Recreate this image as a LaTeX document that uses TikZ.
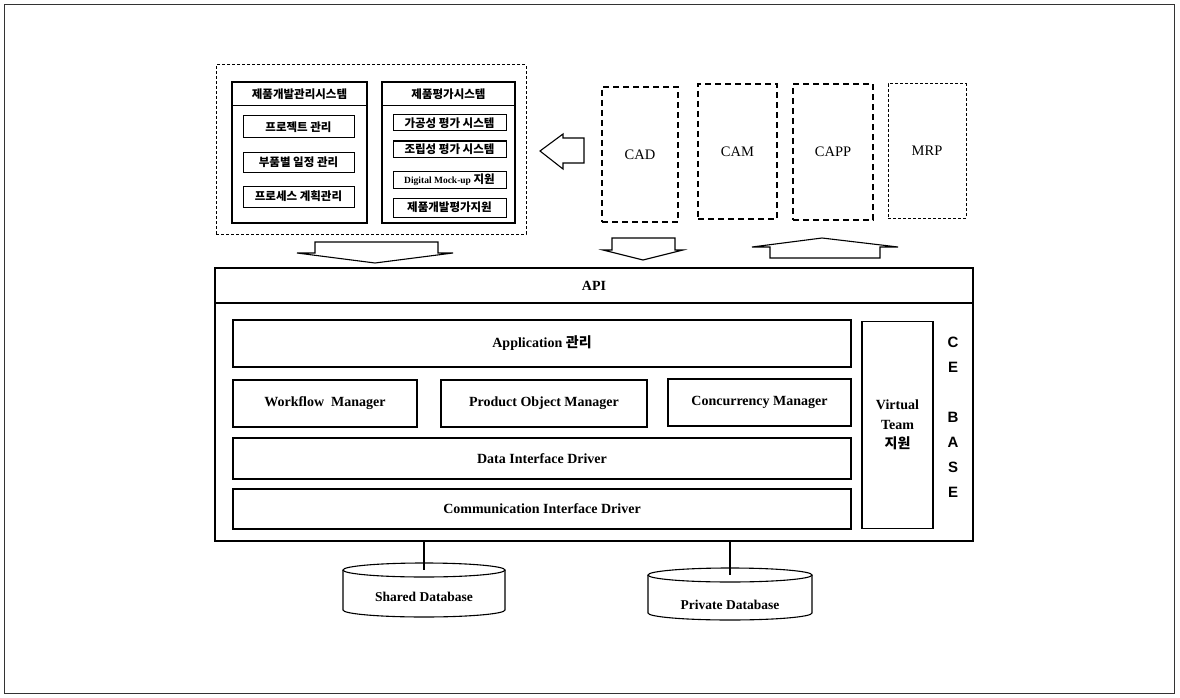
\documentclass[tikz,border=0pt]{standalone}
\usepackage{fontspec}
\setmainfont{Liberation Serif}
\setsansfont{Liberation Sans}
\newfontfamily\krfont{Noto Sans CJK KR}
\newcommand{\hangul}[1]{{\krfont\bfseries #1}}
\begin{document}
\begin{tikzpicture}[x=1pt,y=-1pt,
  box/.style={draw, line width=1.1pt, inner sep=0pt, align=center,
    font=\bfseries\fontsize{14}{18}\selectfont},
  subbox/.style={draw, line width=1pt, inner sep=0pt, align=center,
    font=\krfont\bfseries\fontsize{11.5}{14}\selectfont},
  toolbox/.style={draw, line width=1.2pt, dash pattern=on 6pt off 4pt,
    inner sep=0pt, font=\fontsize{14.5}{16}\selectfont},
  blockarrow/.style={draw, line width=1.1pt, fill=white, line join=miter},
  dblabel/.style={inner sep=0pt, font=\bfseries\fontsize{13.5}{16}\selectfont},
  dbline/.style={line width=1.1pt},
  link/.style={line width=1.1pt}]
\useasboundingbox (0,0) rectangle (1180,698);

% page frame
\draw[line width=1pt, black!80] (4,5) rectangle (1174,693);

% ---- product development / evaluation systems ----
\node[draw, line width=1pt, dash pattern=on 3pt off 2pt, minimum width=310pt,
  minimum height=169pt] (sys) at (371,149.5) {};

\node[draw, line width=1.1pt, minimum width=135pt, minimum height=141pt] (pdm) at (299.5,152.5) {};
\draw[line width=1pt] (pdm.north west |- 0,106) -- (pdm.north east |- 0,106);
\node[font=\krfont\bfseries\fontsize{11.5}{14}\selectfont] (pdmt) at (299.5,94) {제품개발관리시스템};
\node[subbox, minimum width=111pt, minimum height=22pt] (p1) at (298.5,127) {프로젝트 관리};
\node[subbox, minimum width=111pt, minimum height=20pt] (p2) at (298.5,162) {부품별 일정 관리};
\node[subbox, minimum width=111pt, minimum height=21pt] (p3) at (298.5,196.5) {프로세스 계획관리};

\node[draw, line width=1.1pt, minimum width=133pt, minimum height=141pt] (pe) at (448.5,152.5) {};
\draw[line width=1pt] (pe.north west |- 0,106) -- (pe.north east |- 0,106);
\node[font=\krfont\bfseries\fontsize{11.5}{14}\selectfont] (pet) at (448.5,94) {제품평가시스템};
\node[subbox, minimum width=113pt, minimum height=16pt] (e1) at (449.5,123) {가공성 평가 시스템};
\node[subbox, minimum width=113pt, minimum height=16pt] (e2) at (449.5,149) {조립성 평가 시스템};
\node[subbox, minimum width=113pt, minimum height=17pt] (e3) at (449.5,179.5)
  {{\rmfamily\bfseries\fontsize{9.5}{12}\selectfont Digital Mock-up} 지원};
\node[subbox, minimum width=113pt, minimum height=19pt] (e4) at (449.5,207.5) {제품개발평가지원};

% ---- external tools ----
\node[toolbox, minimum width=76pt, minimum height=135pt] (cad) at (640,154.5) {CAD};
\node[toolbox, minimum width=79pt, minimum height=135pt] (cam) at (737.5,151.5) {CAM};
\node[toolbox, minimum width=80pt, minimum height=136pt] (capp) at (833,152) {CAPP};
\node[toolbox, line width=1pt, dash pattern=on 3pt off 2pt, minimum width=78pt,
  minimum height=134pt] (mrp) at (927,151) {MRP};

% block arrows
\draw[blockarrow] (584,138) -- (584,163) -- (563,163) -- (563,169) -- (540,151)
  -- (563,134) -- (563,138) -- cycle;
\draw[blockarrow] (315,242) -- (438,242) -- (438,253) -- (453,253) -- (375,263)
  -- (297,253) -- (315,253) -- cycle;
\draw[blockarrow] (612,238) -- (675,238) -- (675,250) -- (683,250) -- (643,260)
  -- (603,250) -- (612,250) -- cycle;
\draw[blockarrow] (770,258) -- (880,258) -- (880,247) -- (898,247) -- (822,238)
  -- (752,247) -- (770,247) -- cycle;

% ---- CE base ----
\node[draw, line width=1.3pt, minimum width=758pt, minimum height=273pt] (ce) at (594,404.5) {};
\draw[line width=1.3pt] (ce.west |- 0,303) -- (ce.east |- 0,303);
\node[font=\bfseries\fontsize{14}{16}\selectfont] (api) at (594,286) {API};

\node[box, minimum width=618pt, minimum height=47pt] (app) at (542,343.5) {Application \hangul{관리}};
\node[box, minimum width=184pt, minimum height=47pt] (wf) at (325,403.5) {Workflow\ \ Manager};
\node[box, minimum width=206pt, minimum height=47pt] (pom) at (544,403.5) {Product Object Manager};
\node[box, minimum width=183pt, minimum height=47pt] (cm) at (759.5,402.5) {Concurrency Manager};
\node[box, minimum width=618pt, minimum height=41pt] (did) at (542,458.5) {Data Interface Driver};
\node[box, minimum width=618pt, minimum height=40pt] (cid) at (542,509) {Communication Interface Driver};
\node[box, minimum width=71pt, minimum height=207pt,
  font=\bfseries\fontsize{14}{19.5}\selectfont] (vt) at (897.5,425) {Virtual\\Team\\\hangul{지원}};
\node[align=center, inner sep=0pt, font=\sffamily\bfseries\fontsize{15}{25}\selectfont] (base)
  at (953,417) {C\\E\\[25pt]B\\A\\S\\E};

% ---- databases: top ellipse centre, bottom ellipse centre, label ----
\coordinate (sdbtop) at (424,570);
\coordinate (sdbbot) at (424,610);
\node[dblabel] (sdb) at (424,597) {Shared Database};
\coordinate (pdbtop) at (730,575);
\coordinate (pdbbot) at (730,613);
\node[dblabel] (pdb) at (730,605) {Private Database};
\foreach \db/\rx in {sdb/81, pdb/82}{
  \draw[dbline] ([xshift=-\rx pt]\db top) -- ([xshift=-\rx pt]\db bot)
    arc[start angle=180, end angle=360, x radius=\rx pt, y radius=7pt]
    -- ([xshift=\rx pt]\db top);
  \draw[dbline] (\db top) ellipse [x radius=\rx pt, y radius=7pt];
}
\draw[link] (ce.south -| sdbtop) -- (sdbtop);
\draw[link] (ce.south -| pdbtop) -- (pdbtop);
\end{tikzpicture}
\end{document}
